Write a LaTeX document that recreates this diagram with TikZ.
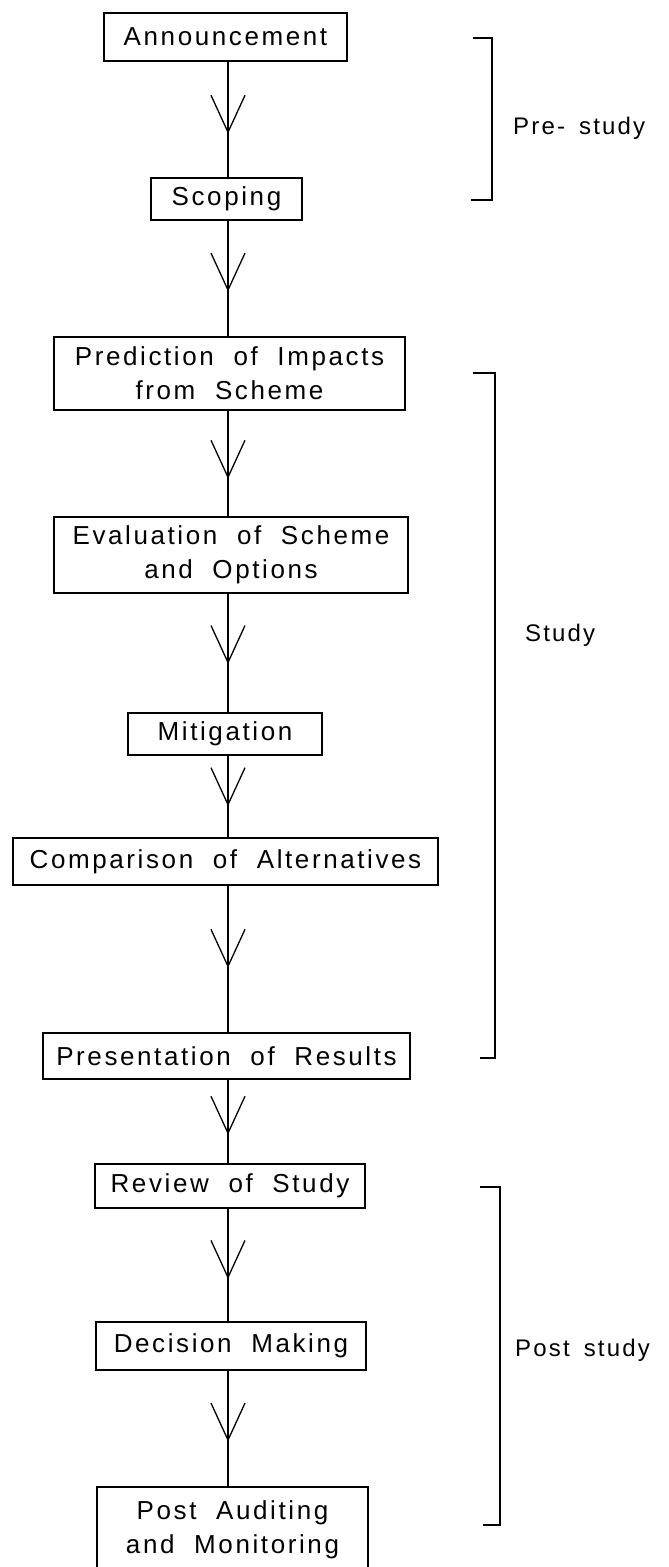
\documentclass[tikz,border=0pt]{standalone}
\usepackage{fontspec}
\setmainfont{Liberation Sans}
\newfontfamily\spacedfont{Liberation Sans}[LetterSpace=10,WordSpace=2]
\newfontfamily\labelfont{Liberation Sans}[LetterSpace=9,WordSpace=1.6]
\usetikzlibrary{decorations.markings}
\tikzset{
  box/.style={draw, line width=1.2pt, inner sep=0pt, align=center,
    font=\spacedfont\fontsize{26}{34}\selectfont},
  conn/.style={line width=1.2pt},
  bracket/.style={line width=1.6pt},
  phase/.style={anchor=west, inner sep=0pt, font=\labelfont\fontsize{24}{28}\selectfont},
  vmark/.style={postaction={decorate,decoration={markings,
    mark=at position #1 with {\draw[line width=1.3pt] (-37pt,17pt) -- (0pt,0pt) -- (-37pt,-17pt);}}}}
}
\begin{document}
\begin{tikzpicture}[x=1pt,y=-1pt]
\useasboundingbox (0,0) rectangle (669,1567);
\coordinate (ax) at (228,0);
% boxes
\node[box, minimum width=243pt, minimum height=48pt] (ann) at (225.5,37) {Announcement};
\node[box, minimum width=151pt, minimum height=42pt] (scop) at (226.5,199) {Scoping};
\node[box, minimum width=351pt, minimum height=73pt] (pred) at (229.5,373.5) {Prediction of Impacts\\from Scheme};
\node[box, minimum width=354pt, minimum height=76pt] (eval) at (231,555) {Evaluation of Scheme\\and Options};
\node[box, minimum width=194pt, minimum height=42pt] (mit) at (225,734) {Mitigation};
\node[box, minimum width=425pt, minimum height=47pt] (comp) at (225.5,861.5) {Comparison of Alternatives};
\node[box, minimum width=367pt, minimum height=46pt] (pres) at (226.5,1056) {Presentation of Results};
\node[box, minimum width=270pt, minimum height=44pt] (rev) at (230,1186) {Review of Study};
\node[box, minimum width=270pt, minimum height=48pt] (dec) at (231,1346) {Decision Making};
\node[box, minimum width=271pt, minimum height=85pt] (post) at (232.5,1529.5) {Post Auditing\\and Monitoring};
% connectors
\draw[conn, vmark=0.61] (ann.south -| ax) -- (scop.north -| ax);
\draw[conn, vmark=0.60] (scop.south -| ax) -- (pred.north -| ax);
\draw[conn, vmark=0.63] (pred.south -| ax) -- (eval.north -| ax);
\draw[conn, vmark=0.58] (eval.south -| ax) -- (mit.north -| ax);
\draw[conn, vmark=0.60] (mit.south -| ax) -- (comp.north -| ax);
\draw[conn, vmark=0.55] (comp.south -| ax) -- (pres.north -| ax);
\draw[conn, vmark=0.64] (pres.south -| ax) -- (rev.north -| ax);
\draw[conn, vmark=0.61] (rev.south -| ax) -- (dec.north -| ax);
\draw[conn, vmark=0.60] (dec.south -| ax) -- (post.north -| ax);
% phase brackets
\draw[bracket] (473,38) -- (492,38) -- (492,200) -- (471,200);
\draw[bracket] (473,373) -- (495,373) -- (495,1058) -- (480,1058);
\draw[bracket] (480,1187) -- (500,1187) -- (500,1525) -- (483,1525);
% phase labels
\node[phase] (pre) at (513,128) {Pre- study};
\node[phase] (stu) at (525,635) {Study};
\node[phase] (pst) at (515,1350) {Post study};
\end{tikzpicture}
\end{document}
